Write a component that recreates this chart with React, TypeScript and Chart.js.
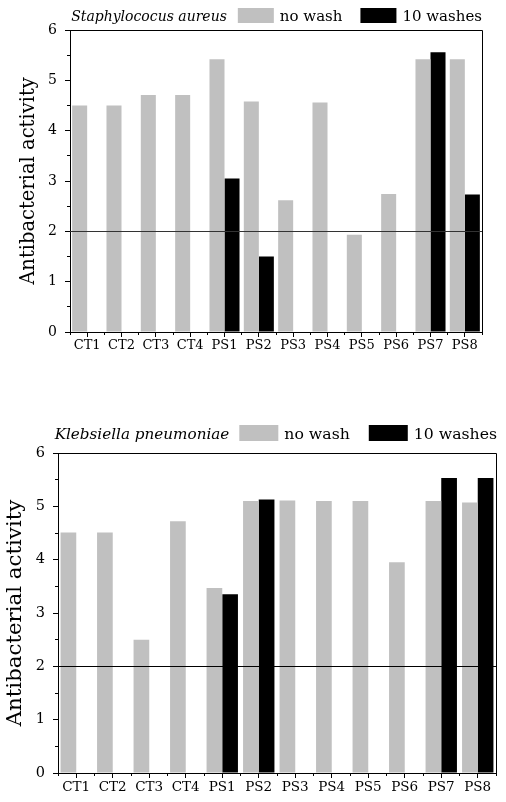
import React, { useEffect, useRef } from 'react';
import { Chart, registerables } from 'chart.js';

Chart.register(...registerables);

// ---------- data ----------
const categories = ['CT1', 'CT2', 'CT3', 'CT4', 'PS1', 'PS2', 'PS3', 'PS4', 'PS5', 'PS6', 'PS7', 'PS8'];
const seriesLabels = ['no wash', '10 washes'];
const seriesColors = ['#c0c0c0', '#000000'];

const saSpecies = 'Staphylococus aureus';
const saNoWash = [4.5, 4.5, 4.71, 4.71, 5.42, 4.58, 2.62, 4.56, 1.93, 2.74, 5.42, 5.42];
const saTenWashes = [null, null, null, null, 3.05, 1.5, null, null, null, null, 5.56, 2.73];

const kpSpecies = 'Klebsiella pneumoniae';
const kpNoWash = [4.51, 4.51, 2.5, 4.72, 3.47, 5.1, 5.11, 5.1, 5.1, 3.95, 5.1, 5.07];
const kpTenWashes = [null, null, null, null, 3.35, 5.13, null, null, null, null, 5.53, 5.53];

const yAxisTitle = 'Antibacterial activity';
const yMin = 0;
const yMax = 6;
const yStep = 1;
const thresholdValue = 2;

const FONT = "'DejaVu Serif', serif";

// ---------- plugins ----------
const decorPlugin = {
  id: 'decor',
  afterDatasetsDraw(chart: any, _args: any, opts: any) {
    const { ctx, chartArea: a } = chart;
    const x = chart.scales.x;
    const y = chart.scales.y;
    const al = (v: number) => Math.round(v - 0.5) + 0.5;
    ctx.save();
    ctx.lineWidth = 1;
    // threshold line
    const ty = al(y.getPixelForValue(opts.threshold));
    ctx.strokeStyle = opts.lineColor;
    ctx.beginPath();
    ctx.moveTo(a.left, ty);
    ctx.lineTo(a.right, ty);
    ctx.stroke();
    // frame (top + right)
    ctx.strokeStyle = '#000';
    ctx.beginPath();
    ctx.moveTo(al(a.left), al(a.top));
    ctx.lineTo(al(a.right), al(a.top));
    ctx.lineTo(al(a.right), al(a.bottom));
    ctx.stroke();
    // minor y ticks
    ctx.beginPath();
    for (let v = yMin + yStep / 2; v < yMax; v += yStep) {
      const py = al(y.getPixelForValue(v));
      ctx.moveTo(a.left - opts.minorLen, py);
      ctx.lineTo(a.left, py);
    }
    // minor x ticks at category boundaries
    const n = x.ticks.length;
    for (let i = 0; i <= n; i++) {
      const px = al(a.left + (i * (a.right - a.left)) / n);
      ctx.moveTo(px, a.bottom);
      ctx.lineTo(px, a.bottom + opts.minorLen);
    }
    ctx.stroke();
    ctx.restore();
  },
  afterDraw(chart: any, _args: any, opts: any) {
    const { ctx, chartArea: a } = chart;
    const lg = opts.legend;
    ctx.save();
    ctx.font = `${lg.fontSize}px ${FONT}`;
    ctx.textBaseline = 'alphabetic';
    ctx.fillStyle = '#000';
    let right = a.right + lg.rightShift;
    const ds = chart.data.datasets;
    for (let i = ds.length - 1; i >= 0; i--) {
      const label = ds[i].label;
      const w = ctx.measureText(label).width;
      ctx.textAlign = 'left';
      ctx.fillStyle = '#000';
      ctx.fillText(label, right - w, lg.baseline);
      const boxRight = right - w - lg.gapBoxText;
      ctx.fillStyle = ds[i].backgroundColor;
      ctx.fillRect(boxRight - lg.boxW, lg.boxTop, lg.boxW, lg.boxH);
      right = boxRight - lg.boxW - (i > 0 ? lg.gapItems : lg.gapSpecies);
    }
    ctx.font = `italic ${lg.speciesFontSize}px ${FONT}`;
    ctx.fillStyle = '#000';
    ctx.textAlign = 'right';
    ctx.fillText(lg.species, right, lg.baseline);
    ctx.restore();
  },
};

function buildConfig(spec: any): any {
  return {
    type: 'bar',
    data: {
      labels: categories,
      datasets: [
        { label: seriesLabels[0], data: spec.noWash, backgroundColor: seriesColors[0], borderWidth: 0 },
        { label: seriesLabels[1], data: spec.tenWashes, backgroundColor: seriesColors[1], borderWidth: 0 },
      ],
    },
    options: {
      responsive: false,
      animation: false,
      devicePixelRatio: 1,
      layout: { padding: { top: spec.padTop, right: spec.padRight, bottom: 0, left: 0 } },
      datasets: { bar: { categoryPercentage: spec.catPct, barPercentage: 1 } },
      plugins: {
        legend: { display: false },
        tooltip: { enabled: false },
        decor: {
          threshold: thresholdValue,
          lineColor: spec.lineColor,
          minorLen: 3,
          legend: spec.legend,
        },
      },
      scales: {
        x: {
          type: 'category',
          offset: true,
          grid: { offset: false, drawOnChartArea: false, drawTicks: true, tickLength: 5, color: '#000', lineWidth: 1 },
          border: { display: true, color: '#000', width: 1 },
          ticks: { color: '#000', font: { family: FONT, size: spec.xFont }, padding: spec.xPad, maxRotation: 0, autoSkip: false },
          afterFit: (s: any) => { s.height = spec.xAxisH; },
        },
        y: {
          min: yMin,
          max: yMax,
          grid: { drawOnChartArea: false, drawTicks: true, tickLength: 5, color: '#000', lineWidth: 1 },
          border: { display: true, color: '#000', width: 1 },
          ticks: { stepSize: yStep, color: '#000', font: { family: FONT, size: spec.yFont }, padding: 8 },
          title: {
            display: true,
            text: yAxisTitle,
            color: '#000',
            font: { family: FONT, size: spec.titleFont },
            padding: { top: spec.titlePad, bottom: 0 },
          },
          afterFit: (s: any) => { s.width = spec.yAxisW; },
        },
      },
    },
    plugins: [decorPlugin],
  };
}

const topSpec = {
  noWash: saNoWash,
  tenWashes: saTenWashes,
  padTop: 30,
  padRight: 24,
  yAxisW: 70,
  xAxisH: 28,
  catPct: 0.875,
  xFont: 13,
  xPad: 1,
  yFont: 14,
  titleFont: 19.5,
  titlePad: 17,
  lineColor: '#333',
  legend: { species: saSpecies, fontSize: 15, speciesFontSize: 14, baseline: 20.5, boxTop: 8, boxH: 15, boxW: 36, gapBoxText: 6, gapItems: 18, gapSpecies: 11, rightShift: 0 },
};

const bottomSpec = {
  noWash: kpNoWash,
  tenWashes: kpTenWashes,
  padTop: 53,
  padRight: 10,
  yAxisW: 58,
  xAxisH: 29,
  catPct: 0.86,
  xFont: 13.5,
  xPad: 1,
  yFont: 14.5,
  titleFont: 21.3,
  titlePad: 3,
  lineColor: '#000',
  legend: { species: kpSpecies, fontSize: 15.7, speciesFontSize: 15.2, baseline: 38.5, boxTop: 25, boxH: 16, boxW: 39, gapBoxText: 6, gapItems: 19, gapSpecies: 10, rightShift: 1 },
};

export default function App() {
  const topRef = useRef<HTMLCanvasElement>(null);
  const botRef = useRef<HTMLCanvasElement>(null);

  useEffect(() => {
    const c1 = new Chart(topRef.current as HTMLCanvasElement, buildConfig(topSpec));
    const c2 = new Chart(botRef.current as HTMLCanvasElement, buildConfig(bottomSpec));
    return () => {
      c1.destroy();
      c2.destroy();
    };
  }, []);

  return (
    <div style={{ position: 'absolute', left: 0, top: 0, width: 506, height: 802, background: '#fff' }}>
      <canvas ref={topRef} width={506} height={360} style={{ position: 'absolute', left: 0, top: 0 }} />
      <canvas ref={botRef} width={506} height={402} style={{ position: 'absolute', left: 0, top: 400 }} />
    </div>
  );
}
